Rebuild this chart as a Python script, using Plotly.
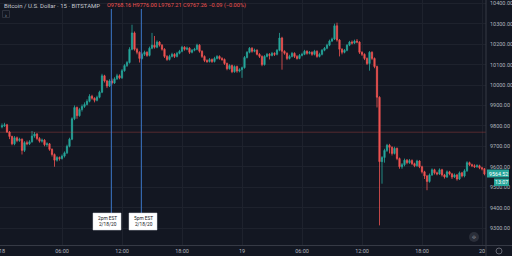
import pandas as pd
import plotly.graph_objects as go

# ---------------- data ----------------
first_open = 9795
close = [9800, 9805, 9770, 9748, 9712, 9742, 9728, 9735, 9680, 9718,
         9712, 9722, 9750, 9760, 9738, 9725, 9730, 9708, 9712, 9685,
         9660, 9632, 9645, 9640, 9652, 9668, 9700, 9735, 9835, 9890,
         9850, 9880, 9895, 9905, 9920, 9945, 9935, 9925, 9940, 9965,
         10045, 10020, 9995, 10020, 10010, 10030, 10045, 10035, 10070, 10095,
         10110, 10175, 10255, 10175, 10160, 10130, 10150, 10160, 10145, 10180,
         10195, 10185, 10210, 10195, 10175, 10140, 10125, 10140, 10150, 10140,
         10155, 10165, 10185, 10175, 10180, 10160, 10170, 10175, 10195, 10165,
         10140, 10120, 10115, 10125, 10115, 10130, 10140, 10130, 10125, 10105,
         10080, 10095, 10065, 10090, 10068, 10075, 10085, 10135, 10160, 10180,
         10165, 10170, 10150, 10140, 10100, 10140, 10150, 10145, 10155, 10150,
         10170, 10230, 10165, 10155, 10130, 10140, 10155, 10140, 10130, 10145,
         10150, 10165, 10155, 10160, 10150, 10165, 10140, 10150, 10170, 10180,
         10195, 10215, 10225, 10290, 10220, 10175, 10160, 10170, 10195, 10210,
         10205, 10215, 10210, 10160, 10150, 10130, 10105, 10160, 10130, 10090,
         9940, 9625, 9645, 9680, 9705, 9695, 9665, 9690, 9640, 9600,
         9610, 9632, 9620, 9630, 9615, 9605, 9628, 9600, 9575, 9555,
         9528, 9560, 9585, 9570, 9565, 9585, 9560, 9550, 9575, 9565,
         9550, 9560, 9540, 9570, 9555, 9580, 9620, 9610, 9605, 9600,
         9605, 9595, 9590, 9564.52]
high = [9812, 9815, 9810, 9775, 9752, 9750, 9748, 9742, 9738, 9725,
        9728, 9730, 9775, 9770, 9765, 9745, 9738, 9735, 9720, 9716,
        9690, 9665, 9652, 9650, 9660, 9675, 9708, 9742, 9842, 9900,
        9895, 9888, 9905, 9915, 9930, 9955, 9952, 9940, 9948, 9972,
        10055, 10050, 10025, 10028, 10032, 10038, 10055, 10052, 10078, 10102,
        10118, 10185, 10295, 10262, 10182, 10165, 10158, 10168, 10165, 10188,
        10255, 10240, 10218, 10215, 10200, 10180, 10146, 10148, 10158, 10156,
        10162, 10172, 10192, 10190, 10188, 10185, 10176, 10182, 10202, 10200,
        10170, 10145, 10126, 10132, 10130, 10138, 10146, 10145, 10136, 10130,
        10110, 10102, 10100, 10096, 10095, 10082, 10090, 10142, 10166, 10186,
        10185, 10178, 10175, 10156, 10145, 10146, 10157, 10156, 10162, 10160,
        10176, 10255, 10236, 10170, 10160, 10148, 10162, 10160, 10146, 10152,
        10158, 10172, 10170, 10166, 10165, 10172, 10170, 10158, 10176, 10186,
        10202, 10222, 10232, 10300, 10305, 10225, 10180, 10176, 10200, 10216,
        10218, 10222, 10225, 10214, 10165, 10155, 10135, 10166, 10165, 10135,
        10095, 9945, 9652, 9688, 9712, 9712, 9700, 9698, 9694, 9645,
        9618, 9640, 9638, 9638, 9636, 9620, 9634, 9632, 9605, 9580,
        9560, 9567, 9592, 9590, 9576, 9592, 9590, 9565, 9582, 9580,
        9570, 9567, 9565, 9577, 9575, 9588, 9627, 9625, 9615, 9612,
        9612, 9610, 9600, 9594]
low = [9788, 9795, 9765, 9735, 9705, 9705, 9720, 9722, 9660, 9672,
       9705, 9706, 9718, 9742, 9730, 9718, 9718, 9700, 9698, 9678,
       9650, 9600, 9625, 9630, 9635, 9645, 9662, 9695, 9730, 9828,
       9835, 9845, 9870, 9888, 9900, 9915, 9928, 9915, 9920, 9935,
       9960, 10012, 9985, 9990, 10002, 10005, 10025, 10028, 10030, 10065,
       10088, 10105, 10170, 10168, 10150, 10110, 10125, 10142, 10138, 10140,
       10175, 10178, 10180, 10188, 10168, 10132, 10118, 10120, 10135, 10132,
       10135, 10150, 10160, 10168, 10170, 10152, 10155, 10165, 10170, 10158,
       10132, 10112, 10108, 10110, 10108, 10110, 10125, 10124, 10118, 10098,
       10072, 10075, 10058, 10060, 10060, 10062, 10035, 10080, 10130, 10155,
       10158, 10160, 10145, 10132, 10092, 10095, 10135, 10125, 10140, 10142,
       10145, 10165, 10075, 10148, 10122, 10125, 10135, 10132, 10124, 10126,
       10140, 10146, 10148, 10150, 10143, 10145, 10133, 10135, 10145, 10165,
       10175, 10190, 10210, 10220, 10212, 10140, 10150, 10155, 10165, 10190,
       10198, 10200, 10204, 10152, 10142, 10122, 10098, 10070, 10122, 10082,
       9890, 9313, 9517, 9620, 9672, 9665, 9655, 9660, 9632, 9590,
       9590, 9602, 9612, 9614, 9608, 9598, 9600, 9593, 9567, 9540,
       9485, 9522, 9555, 9562, 9558, 9560, 9552, 9542, 9545, 9558,
       9540, 9545, 9532, 9535, 9548, 9548, 9575, 9603, 9598, 9594,
       9595, 9588, 9582, 9558]
open_ = [first_open] + close[:-1]

times = pd.date_range("2020-02-18 00:00", periods=len(close), freq="15min")

tick_times = ["2020-02-18 00:00", "2020-02-18 06:00", "2020-02-18 12:00", "2020-02-18 18:00",
              "2020-02-19 00:00", "2020-02-19 06:00", "2020-02-19 12:00", "2020-02-19 18:00",
              "2020-02-20 00:00"]
tick_text = ["18", "06:00", "12:00", "18:00", "19", "06:00", "12:00", "18:00", "20"]
price_ticks = [9300, 9400, 9500, 9600, 9700, 9800, 9900, 10000, 10100, 10200, 10300, 10400]

marker_times = ["2020-02-18 10:56", "2020-02-18 13:56"]
marker_labels = ["2pm EST<br>2/18/20", "5pm EST<br>2/18/20"]
ref_price = 9769
last_price = 9564.52
countdown = "13:07"
title_text = "Bitcoin / U.S. Dollar · 15 · BITSTAMP"
ohlc_text = "O9768.16 H9776.00 L9767.21 C9767.26 −0.09 (−0.00%)"

# ---------------- style ----------------
BG = "#131722"
UP = "#26a69a"
DOWN = "#ef5350"
GRID = "#1e222d"
TXT = "#b2b5be"
FONT = "Roboto"
W, H = 512, 256
ML, MR, MT, MB = 0, 26, 0, 11
PW, PH = W - ML - MR, H - MT - MB


def px(x):
    return (x - ML) / PW


def py(y):
    return 1 - (y - MT) / PH


fig = go.Figure()
fig.add_trace(go.Candlestick(
    x=times, open=open_, high=high, low=low, close=close,
    increasing=dict(line=dict(color=UP, width=0.8), fillcolor=UP),
    decreasing=dict(line=dict(color=DOWN, width=0.8), fillcolor=DOWN),
    whiskerwidth=0, showlegend=False, hoverinfo="skip",
))

shapes = []
# reference price line
shapes.append(dict(type="line", xref="paper", x0=0, x1=1, yref="y", y0=ref_price, y1=ref_price,
                   line=dict(color="rgba(239,83,80,0.3)", width=1)))
# blue marker lines
for t in marker_times:
    shapes.append(dict(type="line", xref="x", x0=t, x1=t, yref="paper", y0=py(213), y1=py(9),
                       line=dict(color="#3b78c9", width=1)))
# axis borders
shapes.append(dict(type="line", xref="paper", yref="paper", x0=px(486), x1=px(486), y0=py(256), y1=py(0),
                   line=dict(color="#363a45", width=1)))
shapes.append(dict(type="line", xref="paper", yref="paper", x0=px(0), x1=px(512), y0=py(245.5), y1=py(245.5),
                   line=dict(color="#363a45", width=1)))
# last price boxes
shapes.append(dict(type="rect", xref="paper", yref="paper", x0=px(487), x1=px(509), y0=py(177.5), y1=py(169.5),
                   fillcolor=UP, line=dict(width=0)))
shapes.append(dict(type="rect", xref="paper", yref="paper", x0=px(494), x1=px(509), y0=py(186), y1=py(178.5),
                   fillcolor=UP, line=dict(width=0)))
# marker label boxes
for t, x0 in zip(marker_times, [93, 129]):
    shapes.append(dict(type="rect", xref="paper", yref="paper", x0=px(x0), x1=px(x0 + 28), y0=py(230), y1=py(213),
                       fillcolor="#ffffff", line=dict(color="#d1d4dc", width=0.5)))
# small top-left button
shapes.append(dict(type="rect", xref="paper", yref="paper", x0=px(2.5), x1=px(9.5), y0=py(17.5), y1=py(10.5),
                   fillcolor=BG, line=dict(color="#363a45", width=0.8)))
# bottom-right round button and gear
shapes.append(dict(type="circle", xref="paper", yref="paper", x0=px(469), x1=px(479), y0=py(242), y1=py(232),
                   fillcolor="#2a2e39", line=dict(width=0)))
shapes.append(dict(type="circle", xref="paper", yref="paper", x0=px(496), x1=px(502), y0=py(254), y1=py(248),
                   fillcolor=BG, line=dict(color="#787b86", width=0.8)))

annotations = []
annotations.append(dict(xref="paper", yref="paper", x=px(2), y=py(5), text=title_text, showarrow=False,
                        xanchor="left", yanchor="middle", font=dict(family=FONT, size=6.0, color="#c5c8d0")))
annotations.append(dict(xref="paper", yref="paper", x=px(105), y=py(5), text=ohlc_text, showarrow=False,
                        xanchor="left", yanchor="middle", font=dict(family=FONT, size=5.6, color=DOWN)))
annotations.append(dict(xref="paper", yref="paper", x=px(6), y=py(14), text="›", showarrow=False,
                        xanchor="center", yanchor="middle", font=dict(family=FONT, size=6, color=TXT)))
# first date label (would be clipped at the left edge by the axis)
annotations.append(dict(xref="paper", yref="paper", x=px(2), y=py(251), text=tick_text[0], showarrow=False,
                        xanchor="center", yanchor="middle", font=dict(family=FONT, size=5.5, color=TXT)))
for x0, lab in zip([93, 129], marker_labels):
    annotations.append(dict(xref="paper", yref="paper", x=px(x0 + 14), y=py(221.5), text=lab, showarrow=False,
                            xanchor="center", yanchor="middle", align="center",
                            font=dict(family=FONT, size=4.8, color="#131722")))
annotations.append(dict(xref="paper", yref="paper", x=px(498), y=py(173.5), text=f"{last_price:.2f}",
                        showarrow=False, xanchor="center", yanchor="middle",
                        font=dict(family=FONT, size=5.3, color="#ffffff")))
annotations.append(dict(xref="paper", yref="paper", x=px(501.5), y=py(182.2), text=countdown,
                        showarrow=False, xanchor="center", yanchor="middle",
                        font=dict(family=FONT, size=5.3, color="#ffffff")))
annotations.append(dict(xref="paper", yref="paper", x=px(474), y=py(237), text="⟐", showarrow=False,
                        xanchor="center", yanchor="middle", font=dict(family="DejaVu Sans", size=5, color="#d1d4dc")))

fig.update_layout(
    width=W, height=H,
    margin=dict(l=ML, r=MR, t=MT, b=MB),
    paper_bgcolor=BG, plot_bgcolor=BG,
    shapes=shapes, annotations=annotations,
    xaxis=dict(
        range=["2020-02-17 23:48", "2020-02-20 00:24"],
        rangeslider=dict(visible=False),
        tickvals=tick_times[1:], ticktext=tick_text[1:],
        tickfont=dict(family=FONT, size=5.5, color=TXT),
        showgrid=True, gridcolor=GRID, gridwidth=1,
        zeroline=False, showline=False, ticks="", ticklabelstandoff=1,
    ),
    yaxis=dict(
        range=[9217, 10416], side="right",
        tickvals=price_ticks, tickformat=".2f",
        tickfont=dict(family=FONT, size=5.5, color=TXT),
        showgrid=True, gridcolor=GRID, gridwidth=1,
        zeroline=False, showline=False, ticks="", ticklabelstandoff=3,
    ),
    hovermode=False,
)

fig.write_html("out.html")
